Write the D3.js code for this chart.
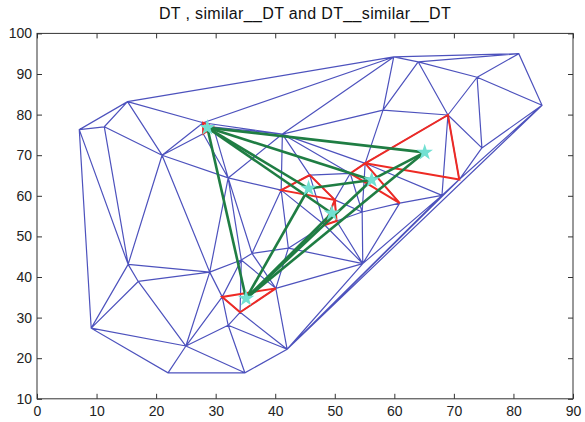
<!DOCTYPE html>
<html>
<head>
<meta charset="utf-8">
<script src="https://cdn.jsdelivr.net/npm/d3@7"></script>
<style>
body { margin: 0; background: #fff; }
text { font-family: "Liberation Sans", Arial, sans-serif; }
</style>
</head>
<body>
<div id="chart"></div>
<script>
// mesh vertices (not part of a similar triangle)
var meshPoints = [
    [7.1, 76.3], [15.2, 83.2], [11.3, 77.0], [21.0, 70.0], [32.1, 64.4],
    [9.1, 27.4], [15.3, 43.1], [17.0, 38.9], [29.0, 41.2], [25.0, 23.0],
    [22.0, 16.4], [34.9, 16.4], [42.0, 22.2], [32.1, 28.1], [34.3, 44.2],
    [36.1, 45.8], [42.2, 47.1], [54.7, 43.3], [41.2, 75.2], [54.6, 56.0],
    [59.9, 94.2], [64.0, 93.0], [80.9, 95.0], [73.9, 89.2], [84.8, 82.3],
    [58.1, 81.1], [74.7, 71.8], [68.0, 60.1]
];

// similar triangles (red)
var similarTriangles = [
    [[27.9, 78.0], [27.9, 75.3], [29.6, 76.9]],
    [[31.1, 35.1], [34.1, 31.3], [40.1, 37.2]],
    [[41.0, 61.4], [45.8, 65.1], [50.0, 59.0]],
    [[50.0, 59.0], [50.3, 53.8], [48.3, 52.8]],
    [[55.1, 68.0], [60.9, 58.2], [52.6, 65.5]],
    [[55.1, 68.0], [69.0, 79.9], [70.9, 64.0]]
];

// centres of the similar triangles (cyan stars)
var starPoints = [
    [28.6, 76.8], [45.6, 61.8], [49.5, 55.7], [56.2, 63.9], [65.1, 70.7], [35.1, 34.7]
];

// DT of the similar triangles (green), index pairs into starPoints
var greenEdges = [
    [0, 4], [0, 3], [0, 2], [0, 1], [0, 5],
    [5, 1], [5, 2], [5, 3], [5, 4],
    [1, 3], [3, 4]
];

var xTicks = [0, 10, 20, 30, 40, 50, 60, 70, 80, 90];
var yTicks = [10, 20, 30, 40, 50, 60, 70, 80, 90, 100];
var TITLE = "DT , similar__DT and DT__similar__DT";

var W = 585, H = 422;
var x = d3.scaleLinear().domain([0, 90]).range([37, 573]);
var y = d3.scaleLinear().domain([10, 100]).range([398.8, 33.4]);

var svg = d3.select("#chart").append("svg")
    .attr("width", W)
    .attr("height", H);

svg.append("text")
    .attr("x", 305)
    .attr("y", 19)
    .attr("text-anchor", "middle")
    .style("font-size", "16px")
    .style("letter-spacing", "0.35px")
    .attr("fill", "#111")
    .text(TITLE);

var plot = svg.append("g");

// blue triangulation of every vertex
var allPoints = meshPoints.concat(d3.merge(similarTriangles));
var delaunay = d3.Delaunay.from(allPoints, function(d){ return x(d[0]); }, function(d){ return y(d[1]); });
plot.append("path")
    .attr("d", delaunay.render())
    .attr("fill", "none")
    .attr("stroke", "#4d52bd")
    .attr("stroke-width", 1.2);

// red similar triangles
var line = d3.line()
    .x(function(d){ return x(d[0]); })
    .y(function(d){ return y(d[1]); })
    .curve(d3.curveLinearClosed);
plot.selectAll(".sim").data(similarTriangles)
    .enter().append("path")
    .attr("class", "sim")
    .attr("d", line)
    .attr("fill", "none")
    .attr("stroke", "#ee2a24")
    .attr("stroke-width", 2);

// green edges between the centres
plot.selectAll(".green").data(greenEdges)
    .enter().append("line")
    .attr("class", "green")
    .attr("x1", function(d){ return x(starPoints[d[0]][0]); })
    .attr("y1", function(d){ return y(starPoints[d[0]][1]); })
    .attr("x2", function(d){ return x(starPoints[d[1]][0]); })
    .attr("y2", function(d){ return y(starPoints[d[1]][1]); })
    .attr("stroke", "#1f7d43")
    .attr("stroke-width", 2.6);

// cyan stars
plot.selectAll(".star").data(starPoints)
    .enter().append("path")
    .attr("class", "star")
    .attr("d", d3.symbol(d3.symbolStar, 85))
    .attr("transform", function(d){ return "translate(" + x(d[0]) + "," + y(d[1]) + ")"; })
    .attr("fill", "#72e0d2");

// axes, ticks pointing inward on all four sides
function styleAxis(g) {
    g.select(".domain").remove();
    g.selectAll("line").attr("stroke", "#333");
    g.selectAll("text").style("font-size", "14px").attr("fill", "#222");
}
svg.append("g")
    .attr("transform", "translate(0," + y(10) + ")")
    .call(d3.axisBottom(x).tickValues(xTicks).tickSize(-5).tickPadding(7))
    .call(styleAxis);
svg.append("g")
    .attr("transform", "translate(0," + y(100) + ")")
    .call(d3.axisTop(x).tickValues(xTicks).tickSize(-5).tickFormat(""))
    .call(styleAxis);
svg.append("g")
    .attr("transform", "translate(" + x(0) + ",0)")
    .call(d3.axisLeft(y).tickValues(yTicks).tickSize(-5).tickPadding(5))
    .call(styleAxis);
svg.append("g")
    .attr("transform", "translate(" + x(90) + ",0)")
    .call(d3.axisRight(y).tickValues(yTicks).tickSize(-5).tickFormat(""))
    .call(styleAxis);

svg.append("rect")
    .attr("x", x(0))
    .attr("y", y(100))
    .attr("width", x(90) - x(0))
    .attr("height", y(10) - y(100))
    .attr("fill", "none")
    .attr("stroke", "#333")
    .attr("stroke-width", 1);
</script>
</body>
</html>
